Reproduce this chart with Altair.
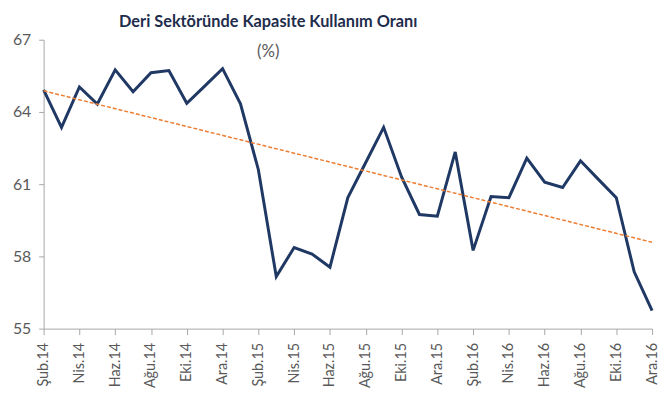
import altair as alt
import pandas as pd

months = ["Şub.14", "Mar.14", "Nis.14", "May.14", "Haz.14", "Tem.14", "Ağu.14", "Eyl.14",
          "Eki.14", "Kas.14", "Ara.14", "Oca.15", "Şub.15", "Mar.15", "Nis.15", "May.15",
          "Haz.15", "Tem.15", "Ağu.15", "Eyl.15", "Eki.15", "Kas.15", "Ara.15", "Oca.16",
          "Şub.16", "Mar.16", "Nis.16", "May.16", "Haz.16", "Tem.16", "Ağu.16", "Eyl.16",
          "Eki.16", "Kas.16", "Ara.16"]
values = [64.92, 63.36, 65.04, 64.33, 65.75, 64.84, 65.63, 65.72,
          64.36, 65.07, 65.80, 64.34, 61.60, 57.16, 58.37, 58.10,
          57.55, 60.44, 61.90, 63.36, 61.30, 59.74, 59.67, 62.34,
          58.25, 60.49, 60.44, 62.08, 61.08, 60.86, 61.97, 61.20,
          60.44, 57.36, 55.75]
y_ticks = [55, 58, 61, 64, 67]
title_text = "Deri Sektöründe Kapasite Kullanım Oranı"
subtitle_text = "(%)"

df = pd.DataFrame({"i": list(range(len(months))), "month": months, "value": values})
even_idx = list(range(0, len(months), 2))
label_expr = "[" + ",".join("'" + m + "'" for m in months) + "][datum.value]"

FONT = "Lato, sans-serif"
GRAY = "#595959"
NAVY = "#1F3864"

def x_enc():
    return alt.X("i:Q",
                 scale=alt.Scale(domain=[0, len(months) - 1], nice=False, zero=False),
                 axis=alt.Axis(values=even_idx, labelExpr=label_expr, labelAngle=-90,
                               labelAlign="right", labelBaseline="middle",
                               labelOverlap=False, labelBound=False, labelFlush=False,
                               title=None, grid=False, domainColor="#A6A6A6",
                               tickColor="#A6A6A6", tickSize=6, labelPadding=8,
                               labelColor=GRAY, labelFont=FONT, labelFontSize=14.5))

def y_enc():
    return alt.Y("value:Q",
                 scale=alt.Scale(domain=[55, 67], nice=False, zero=False),
                 axis=alt.Axis(values=y_ticks, title=None, grid=False,
                               domainColor="#A6A6A6", tickColor="#A6A6A6", tickSize=5,
                               labelPadding=8, labelColor=GRAY, labelFont=FONT,
                               labelFontSize=16))

base = alt.Chart(df)

line = base.mark_line(color=NAVY, strokeWidth=3, strokeJoin="miter").encode(x=x_enc(), y=y_enc())

trend = base.transform_regression("i", "value").mark_line(
    color="#ED7D31", strokeWidth=1.5, strokeDash=[4, 2]).encode(x=x_enc(), y=y_enc())

title_df = pd.DataFrame({"t": [title_text]})
title = alt.Chart(title_df).mark_text(font=FONT, fontSize=16.5, fontWeight="bold",
                                      color="#1F2D4D", align="center", baseline="middle").encode(
    text="t:N", x=alt.value(227), y=alt.value(-18))
sub_df = pd.DataFrame({"t": [subtitle_text]})
subtitle = alt.Chart(sub_df).mark_text(font=FONT, fontSize=17, color=GRAY,
                                       align="center", baseline="middle").encode(
    text="t:N", x=alt.value(227), y=alt.value(12))

chart = alt.layer(line, trend, title, subtitle).properties(
    width=615, height=292,
    autosize=alt.AutoSizeParams(type="none"),
    padding={"left": 36, "top": 30, "right": 8, "bottom": 62},
).configure_view(stroke=None)

chart.save("out.html", embed_options={"renderer": "svg", "actions": False})
